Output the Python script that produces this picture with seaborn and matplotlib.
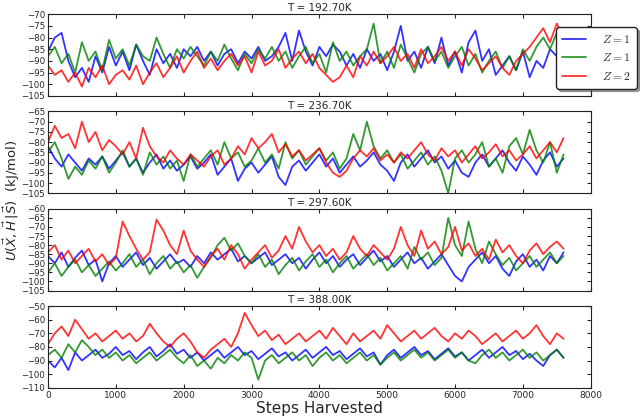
"""Energy traces per temperature, four stacked panels."""

import matplotlib

matplotlib.use("Agg")

import matplotlib.pyplot as plt
import numpy as np
import seaborn as sns

STEP = 100

temperatures = ["T = 192.70K", "T = 236.70K", "T = 297.60K", "T = 388.00K"]
labels = [r"$Z=1$", r"$Z=1$", r"$Z=2$"]
colors = ["blue", "green", "red"]
ylims = [(-105, -70), (-105, -65), (-105, -60), (-110, -50)]
ytick_step = [5, 5, 5, 10]

blue_1 = [-86, -80, -78, -90, -97, -93, -99, -88, -95, -84, -92, -86, -94, -83, -90, -96, -85, -91, -87, -93,
          -85, -88, -84, -90, -86, -92, -87, -85, -91, -86, -89, -84, -90, -88, -84, -78, -90, -77, -86, -92,
          -84, -88, -83, -86, -92, -87, -93, -85, -90, -87, -94, -86, -75, -90, -86, -93, -84, -91, -80, -92,
          -86, -95, -82, -77, -90, -85, -96, -92, -88, -94, -86, -97, -90, -93, -85, -88, -86]
green_1 = [-88, -84, -91, -87, -95, -82, -90, -86, -94, -81, -89, -85, -92, -83, -88, -90, -80, -87, -93, -85,
           -89, -84, -88, -92, -86, -90, -83, -89, -94, -87, -91, -85, -89, -84, -90, -86, -93, -88, -84, -91,
           -87, -95, -82, -90, -86, -92, -88, -85, -74, -91, -86, -93, -83, -89, -95, -87, -84, -90, -86, -93,
           -88, -84, -92, -87, -95, -90, -86, -93, -88, -94, -85, -90, -84, -80, -85, -78, -83]
red_1 = [-92, -96, -94, -99, -95, -101, -93, -97, -92, -100, -96, -94, -98, -92, -100, -95, -91, -97, -93, -88,
         -95, -90, -86, -93, -89, -94, -90, -87, -92, -88, -95, -86, -92, -90, -85, -93, -89, -86, -91, -87,
         -93, -96, -99, -97, -92, -97, -88, -92, -86, -91, -88, -84, -90, -87, -93, -85, -91, -88, -84, -90,
         -86, -92, -85, -89, -94, -91, -88, -93, -96, -90, -87, -84, -80, -76, -82, -74, -80]

blue_2 = [-82, -88, -92, -86, -90, -94, -88, -91, -87, -93, -89, -85, -92, -88, -95, -90, -86, -93, -89, -94,
          -91, -87, -93, -90, -86, -96, -92, -88, -99, -93, -90, -95, -91, -87, -97, -101, -92, -89, -94, -90,
          -86, -92, -88, -95, -91, -87, -92, -89, -85, -91, -94, -99, -90, -86, -92, -88, -84, -90, -87, -93,
          -89, -95, -97, -90, -86, -92, -88, -84, -90, -94, -87, -91, -96, -89, -85, -92, -88]
green_2 = [-85, -80, -88, -98, -92, -96, -89, -93, -87, -95, -90, -84, -92, -88, -96, -85, -91, -87, -93, -89,
           -99, -86, -92, -88, -84, -91, -80, -88, -85, -92, -89, -83, -90, -86, -93, -80, -88, -84, -91, -87,
           -83, -89, -85, -93, -88, -76, -84, -70, -82, -88, -84, -90, -86, -93, -89, -85, -91, -87, -94, -105,
           -88, -84, -90, -86, -80, -92, -88, -95, -82, -78, -86, -74, -84, -90, -80, -95, -86]
red_2 = [-80, -72, -78, -76, -83, -70, -80, -75, -84, -79, -82, -86, -80, -88, -73, -82, -87, -90, -84, -88,
         -91, -86, -89, -92, -87, -84, -91, -88, -82, -86, -78, -83, -80, -76, -85, -81, -87, -84, -89, -86,
         -83, -90, -95, -97, -94, -88, -84, -87, -83, -89, -86, -90, -85, -88, -84, -80, -86, -89, -83, -87,
         -84, -90, -86, -82, -88, -85, -81, -87, -84, -89, -86, -82, -88, -84, -80, -85, -78]

blue_3 = [-86, -90, -84, -92, -87, -83, -91, -88, -100, -90, -86, -92, -88, -84, -91, -87, -93, -89, -85, -90,
          -88, -92, -86, -90, -84, -88, -85, -82, -89, -86, -90, -87, -84, -91, -88, -85, -90, -87, -93, -88,
          -84, -90, -86, -92, -88, -85, -91, -87, -83, -89, -86, -92, -88, -84, -90, -87, -93, -89, -85, -91,
          -97, -100, -92, -88, -84, -90, -86, -93, -97, -89, -85, -92, -88, -94, -86, -90, -84]
green_3 = [-95, -90, -97, -92, -88, -95, -91, -97, -93, -89, -94, -90, -85, -92, -88, -96, -90, -86, -93, -89,
           -95, -91, -98, -92, -87, -80, -76, -83, -79, -86, -90, -85, -92, -88, -96, -91, -87, -94, -89, -85,
           -92, -88, -95, -90, -86, -93, -89, -85, -91, -87, -94, -90, -86, -93, -81, -88, -84, -91, -87, -65,
           -80, -86, -67, -82, -90, -78, -85, -91, -87, -94, -90, -86, -92, -88, -84, -90, -86]
red_3 = [-84, -80, -88, -83, -90, -86, -82, -89, -85, -91, -87, -67, -75, -82, -88, -84, -66, -72, -80, -85,
         -72, -83, -88, -92, -86, -82, -88, -80, -85, -93, -88, -84, -80, -87, -83, -75, -82, -70, -78, -84,
         -80, -86, -82, -88, -84, -75, -82, -86, -80, -84, -88, -82, -70, -80, -86, -72, -82, -78, -85, -81,
         -70, -83, -79, -86, -82, -88, -77, -84, -80, -86, -90, -83, -79, -85, -81, -78, -82]

blue_4 = [-90, -95, -88, -97, -84, -90, -86, -82, -88, -85, -80, -86, -83, -89, -84, -80, -87, -83, -78, -85,
          -82, -88, -84, -90, -86, -82, -88, -84, -80, -86, -83, -89, -85, -81, -87, -84, -90, -86, -82, -88,
          -84, -80, -86, -83, -89, -85, -81, -87, -84, -93, -86, -82, -88, -84, -80, -86, -83, -89, -85, -81,
          -87, -84, -90, -86, -82, -88, -84, -80, -86, -83, -89, -85, -90, -94, -86, -82, -88]
green_4 = [-86, -82, -88, -78, -84, -75, -80, -86, -82, -88, -84, -90, -86, -92, -88, -84, -90, -86, -82, -88,
           -92, -86, -94, -90, -96, -88, -92, -86, -90, -84, -88, -104, -90, -86, -92, -88, -84, -90, -86, -94,
           -88, -84, -90, -86, -92, -88, -84, -90, -86, -93, -88, -84, -90, -86, -82, -88, -84, -90, -86, -82,
           -88, -84, -90, -92, -86, -82, -88, -84, -90, -86, -82, -88, -84, -90, -86, -82, -88]
red_4 = [-78, -70, -65, -72, -60, -67, -74, -70, -76, -72, -68, -74, -70, -76, -72, -63, -70, -76, -80, -74,
         -70, -76, -84, -88, -82, -78, -74, -80, -70, -55, -64, -72, -68, -75, -71, -78, -74, -70, -76, -72,
         -68, -74, -66, -72, -78, -70, -76, -72, -68, -74, -64, -70, -76, -72, -68, -74, -70, -66, -72, -76,
         -70, -74, -68, -72, -78, -74, -70, -76, -72, -68, -74, -70, -64, -72, -78, -70, -74]

panels = [
    [blue_1, green_1, red_1],
    [blue_2, green_2, red_2],
    [blue_3, green_3, red_3],
    [blue_4, green_4, red_4],
]

sns.set_style("ticks")
plt.rcParams["font.family"] = ["DejaVu Sans"]

fig, axes = plt.subplots(4, 1, figsize=(6.4, 4.17), dpi=100, sharex=True)
fig.subplots_adjust(left=0.075, right=0.923, top=0.966, bottom=0.070, hspace=0.19)

for i, (ax, series) in enumerate(zip(axes, panels)):
    for values, color, label in zip(series, colors, labels):
        steps = np.arange(len(values)) * STEP
        sns.lineplot(x=steps, y=values, color=color, lw=1.3, alpha=0.8, ax=ax,
                     label=label if i == 0 else None, legend=False)
    lo, hi = ylims[i]
    ax.set_ylim(lo, hi)
    ax.set_yticks(np.arange(lo, hi + 1, ytick_step[i]))
    ax.set_xlim(0, 8000)
    ax.set_title(temperatures[i], fontsize=7.5, pad=2)
    ax.tick_params(direction="in", top=True, right=True, labelsize=6.2, length=3, pad=2)
    for spine in ax.spines.values():
        spine.set_color("#222222")

axes[-1].set_xticks(np.arange(0, 8001, 1000))
axes[-1].tick_params(axis="x", labelsize=6.5)
axes[-1].set_xlabel("Steps Harvested", fontsize=11, labelpad=1)

axes[0].legend(loc="upper right", bbox_to_anchor=(1.085, 0.84), borderaxespad=0,
               fancybox=True, shadow=True, framealpha=1, edgecolor="#222222",
               handlelength=2.0, handletextpad=1.4, borderpad=0.5, labelspacing=0.45,
               prop={"size": 8.5, "math_fontfamily": "cm"})

fig.text(0.018, 0.52, r"$U(\vec{X},\vec{H}\,|\vec{S})$  (kJ/mol)", rotation=90,
         va="center", ha="center", fontsize=9.5)

fig.savefig("out.png", dpi=100)
plt.close(fig)
